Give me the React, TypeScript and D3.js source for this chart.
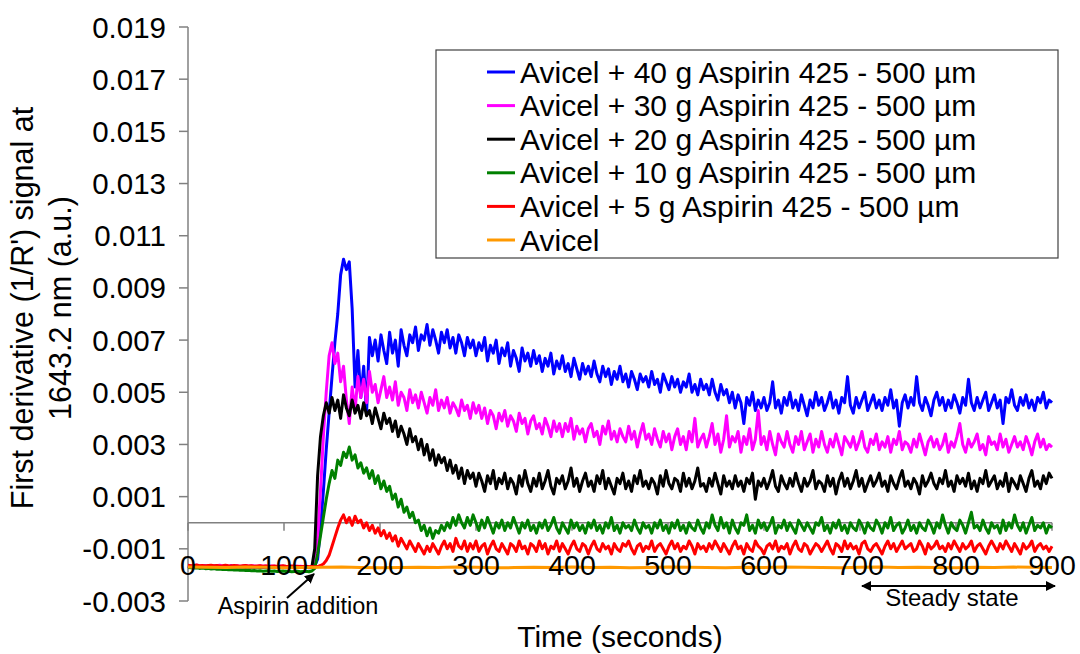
import React from "react";
import * as d3 from "d3";

const FONT = "'Liberation Sans', Arial, Helvetica, sans-serif";

// Axis ticks
const xTicks = [0, 100, 200, 300, 400, 500, 600, 700, 800, 900];
const yTicks = [-0.003, -0.001, 0.001, 0.003, 0.005, 0.007, 0.009, 0.011, 0.013, 0.015, 0.017, 0.019];
const yTickLabels = ["-0.003", "-0.001", "0.001", "0.003", "0.005", "0.007", "0.009", "0.011", "0.013", "0.015", "0.017", "0.019"];

// First-derivative signals in units of 1e-5 a.u.
const SIGNAL_UNIT = 1e-5;
const STEP_S = 3; // mixture runs: one reading every 3 s (each row = 30 s)
const AVICEL_STEP_S = 20; // blank Avicel run: one reading every 20 s

const aspirin40 = [
  -167, -168, -166, -169, -168, -167, -170, -168, -169, -167,
  -168, -170, -169, -168, -171, -169, -170, -168, -171, -170,
  -169, -171, -170, -172, -170, -171, -172, -170, -171, -172,
  -171, -172, -170, -171, -173, -172, -171, -173, -172, -171,
  -172, -171, -173, -172, -165, -140, -20, 120, 280, 420,
  560, 690, 800, 950, 1010, 970, 1000, 820, 520, 660,
  480, 600, 420, 710, 640, 700, 620, 720, 660, 610,
  730, 650, 700, 600, 740, 680, 640, 720, 690, 750,
  660, 720, 700, 760, 680, 740, 700, 650, 730, 690,
  740, 670, 710, 650, 720, 690, 640, 710, 670, 700,
  640, 690, 660, 710, 620, 680, 650, 700, 610, 670,
  640, 690, 600, 660, 630, 580, 670, 620, 650, 600,
  660, 610, 640, 580, 630, 600, 650, 570, 620, 590,
  640, 580, 610, 560, 630, 590, 550, 610, 570, 600,
  560, 620, 570, 540, 600, 560, 590, 530, 580, 550,
  600, 540, 570, 520, 580, 550, 510, 570, 540, 560,
  520, 580, 530, 550, 500, 570, 540, 510, 560, 520,
  550, 500, 540, 520, 570, 500, 530, 490, 550, 510,
  530, 490, 550, 500, 470, 530, 490, 510, 460, 500,
  440, 490, 460, 380, 480, 450, 500, 430, 470, 440,
  480, 430, 460, 540, 440, 470, 420, 480, 450, 500,
  440, 470, 430, 490, 450, 410, 470, 440, 500, 450,
  480, 430, 460, 500, 440, 470, 420, 480, 460, 560,
  450, 420, 480, 440, 470, 500, 430, 460, 490, 440,
  470, 430, 480, 450, 510, 440, 470, 370, 460, 490,
  440, 480, 450, 560, 460, 430, 480, 450, 410, 470,
  500, 450, 480, 430, 470, 440, 490, 460, 420, 480,
  450, 550, 460, 430, 480, 440, 470, 500, 430, 460,
  490, 440, 470, 380, 480, 460, 510, 450, 430, 480,
  450, 490, 440, 470, 430, 480, 460, 500, 440, 470,
  460,
];

const aspirin30 = [
  -164, -166, -165, -163, -166, -164, -165, -167, -164, -166,
  -165, -163, -166, -165, -167, -164, -166, -165, -167, -166,
  -164, -167, -165, -166, -168, -165, -167, -166, -168, -166,
  -167, -168, -166, -167, -169, -167, -168, -166, -168, -167,
  -168, -167, -169, -168, -155, -60, 120, 330, 500, 640,
  690, 610, 650, 540, 600, 470, 380, 520, 430, 560,
  480, 550, 460, 580, 500, 530, 460, 510, 560, 480,
  520, 470, 540, 450, 500, 480, 430, 510, 460, 490,
  440, 500, 460, 420, 480, 450, 510, 430, 470, 440,
  480, 420, 460, 440, 410, 470, 430, 450, 400, 460,
  420, 450, 400, 440, 380, 430, 410, 360, 420, 390,
  430, 370, 410, 390, 350, 420, 380, 400, 340, 390,
  410, 360, 380, 340, 400, 370, 330, 390, 350, 380,
  330, 380, 350, 400, 320, 370, 340, 360, 310, 360,
  380, 330, 350, 300, 370, 340, 390, 320, 350, 310,
  360, 330, 310, 370, 320, 350, 290, 340, 380, 320,
  340, 300, 360, 320, 290, 350, 310, 340, 280, 330,
  360, 300, 330, 280, 350, 310, 400, 290, 320, 340,
  290, 330, 380, 300, 340, 270, 320, 410, 290, 330,
  310, 350, 270, 330, 300, 360, 280, 320, 430, 300,
  330, 280, 350, 300, 260, 340, 310, 290, 350, 300,
  270, 330, 300, 350, 280, 310, 340, 270, 320, 290,
  350, 300, 270, 320, 290, 340, 300, 260, 330, 310,
  290, 330, 280, 310, 350, 290, 270, 320, 300, 340,
  280, 310, 290, 330, 270, 320, 300, 350, 280, 310,
  300, 270, 320, 290, 340, 300, 260, 310, 330, 290,
  320, 280, 300, 340, 270, 310, 290, 330, 380, 300,
  270, 320, 290, 310, 340, 280, 300, 260, 330, 300,
  310, 280, 340, 290, 320, 270, 300, 330, 290, 310,
  280, 330, 300, 260, 310, 340, 290, 320, 280, 300,
  290,
];

const aspirin20 = [
  -167, -169, -168, -166, -168, -169, -167, -168, -170, -168,
  -167, -169, -168, -170, -169, -167, -169, -170, -168, -169,
  -171, -169, -170, -168, -170, -171, -169, -170, -171, -170,
  -169, -171, -170, -172, -170, -171, -169, -171, -172, -170,
  -171, -170, -172, -171, -100, 180, 330, 410, 460, 420,
  480, 430, 470, 400, 490, 440, 410, 470, 420, 450,
  400, 460, 410, 430, 380, 440, 400, 360, 420, 380,
  400, 350, 390, 330, 370, 340, 300, 360, 310, 330,
  280, 320, 260, 300, 240, 280, 220, 260, 230, 250,
  200, 240, 190, 220, 170, 210, 150, 200, 170, 190,
  140, 190, 160, 120, 180, 150, 200, 130, 170, 150,
  190, 130, 170, 150, 110, 180, 140, 200, 150, 120,
  170, 140, 190, 130, 160, 200, 140, 110, 170, 150,
  180, 130, 160, 210, 140, 170, 120, 160, 190, 140,
  160, 120, 180, 150, 200, 130, 170, 140, 110, 170,
  150, 190, 130, 160, 120, 180, 150, 200, 140, 160,
  130, 170, 150, 110, 180, 140, 200, 150, 130, 170,
  160, 120, 190, 140, 170, 130, 160, 210, 140, 150,
  120, 170, 140, 190, 150, 110, 180, 140, 160, 130,
  180, 140, 160, 120, 170, 150, 190, 90, 160, 140,
  170, 130, 160, 200, 140, 120, 180, 150, 130, 170,
  140, 190, 150, 120, 170, 140, 160, 200, 130, 160,
  150, 120, 180, 140, 170, 110, 160, 190, 140, 170,
  130, 160, 200, 140, 170, 120, 150, 180, 140, 160,
  190, 140, 160, 120, 180, 150, 130, 170, 200, 140,
  160, 130, 170, 150, 110, 180, 140, 160, 190, 150,
  130, 170, 150, 200, 140, 160, 120, 180, 150, 170,
  140, 190, 130, 160, 120, 170, 150, 200, 140, 160,
  180, 130, 160, 140, 190, 120, 170, 150, 130, 180,
  150, 120, 170, 200, 140, 160, 130, 180, 150, 190,
  170,
];

const aspirin10 = [
  -172, -173, -174, -173, -175, -174, -176, -175, -177, -176,
  -178, -177, -179, -178, -180, -179, -181, -180, -182, -181,
  -183, -182, -184, -183, -185, -184, -186, -185, -184, -186,
  -185, -187, -186, -185, -187, -186, -188, -187, -186, -188,
  -187, -186, -188, -185, -175, -120, -50, 20, 90, 150,
  200, 170, 240, 220, 270, 250, 290, 240, 260, 210,
  230, 190, 210, 170, 200, 150, 180, 130, 160, 120,
  140, 90, 110, 60, 90, 40, 60, 20, 40, 0,
  10, -30, -10, -50, -20, -60, -30, -40, -10, -30,
  0, -20, 20, -10, 30, 0, -20, 20, -10, 30,
  0, -30, 10, -20, 20, -10, -40, 0, -20, 10,
  -30, 0, -20, 20, -10, -40, 0, -20, 10, -30,
  -10, -40, 0, -20, 10, -30, -10, 20, -20, -40,
  0, -20, -40, 10, -20, 0, -30, -10, -40, 0,
  -20, 10, -30, -10, -40, 0, -20, 20, -30, -10,
  -40, 0, -20, -10, -30, 10, -20, -40, 0, -20,
  -10, -40, 0, -20, 10, -30, -10, -40, 0, -20,
  10, -30, -10, -40, 0, -20, -30, 10, -20, -40,
  0, -20, 30, -10, -30, 20, -20, 0, -40, 10,
  -20, -40, 0, -10, 30, -30, -10, -40, 10, -20,
  0, -30, -10, 20, -40, -10, -20, 10, -30, 0,
  -20, -40, 10, -10, -30, 0, -20, -40, 0, -10,
  20, -30, -10, -40, 0, -20, 10, -30, -10, -40,
  0, -20, -30, 10, -10, -40, 0, -20, -30, 10,
  -10, -40, 0, -20, 20, -30, -10, 0, -40, -20,
  10, -30, -10, -40, 0, -20, -30, 10, -10, -40,
  0, -20, 30, -10, -40, 0, -20, -30, 10, -10,
  -40, 0, 40, -20, -10, -30, 10, -20, -40, 0,
  -20, -10, -40, 10, -30, 0, -20, 30, -10, -30,
  0, -40, -10, 20, -30, -10, -20, 0, -40, -10,
  -20,
];

const aspirin5 = [
  -163, -165, -164, -162, -165, -164, -166, -164, -163, -165,
  -164, -166, -165, -163, -165, -166, -164, -165, -167, -165,
  -164, -166, -165, -167, -166, -165, -167, -166, -168, -167,
  -166, -168, -167, -165, -167, -168, -166, -168, -167, -169,
  -168, -167, -169, -168, -170, -168, -164, -158, -145, -125,
  -90, -55, -20, 10, 30, 0, 20, -10, 25, 0,
  10, -20, 0, -30, -10, -40, -20, -50, -30, -60,
  -40, -70, -50, -90, -60, -80, -100, -70, -90, -110,
  -80, -100, -120, -90, -110, -80, -100, -120, -90, -70,
  -100, -80, -110, -60, -90, -100, -70, -110, -80, -100,
  -70, -110, -90, -80, -120, -90, -70, -100, -110, -80,
  -100, -120, -80, -90, -110, -70, -100, -90, -120, -80,
  -90, -110, -70, -100, -80, -120, -90, -100, -70, -110,
  -80, -100, -120, -90, -70, -100, -110, -80, -90, -120,
  -90, -70, -100, -110, -80, -100, -90, -120, -80, -100,
  -110, -80, -90, -70, -100, -120, -90, -80, -110, -90,
  -100, -70, -110, -90, -80, -100, -120, -90, -70, -100,
  -80, -110, -90, -100, -70, -90, -120, -80, -100, -90,
  -110, -80, -100, -70, -90, -110, -80, -100, -120, -90,
  -70, -100, -90, -120, -80, -100, -110, -70, -90, -100,
  -120, -90, -80, -100, -70, -110, -90, -100, -80, -120,
  -90, -70, -100, -110, -80, -90, -120, -100, -80, -90,
  -110, -90, -70, -100, -120, -80, -90, -110, -70, -100,
  -80, -100, -90, -120, -80, -70, -100, -110, -90, -80,
  -100, -120, -90, -70, -100, -80, -110, -90, -70, -100,
  -90, -80, -110, -100, -70, -90, -120, -80, -100, -90,
  -70, -100, -90, -110, -80, -100, -70, -90, -110, -80,
  -100, -90, -70, -110, -90, -80, -100, -120, -90, -70,
  -90, -110, -80, -100, -70, -90, -110, -80, -100, -120,
  -80, -100, -90, -70, -110, -90, -80, -100, -90, -110,
  -90,
];

const avicelOnly = [
  -170, -171, -172, -170, -171, -173, -172, -171, -170, -172, -173, -172, -171, -172, -170, -171, -173, -172, -171, -172,
  -170, -172, -171, -173, -172, -170, -171, -172, -173, -171, -172, -170, -171, -172, -173, -171, -170, -172, -171, -172,
  -173, -171, -172, -170, -171, -172,
];

const seriesNames = [
  "Avicel + 40 g Aspirin 425 - 500 µm",
  "Avicel + 30 g Aspirin 425 - 500 µm",
  "Avicel + 20 g Aspirin 425 - 500 µm",
  "Avicel + 10 g Aspirin 425 - 500 µm",
  "Avicel + 5 g Aspirin 425 - 500 µm",
  "Avicel",
];
const seriesColors = ["#0000FF", "#FF00FF", "#000000", "#008000", "#FF0000", "#FF9900"];
const seriesValues = [aspirin40, aspirin30, aspirin20, aspirin10, aspirin5, avicelOnly];
const seriesSteps = [STEP_S, STEP_S, STEP_S, STEP_S, STEP_S, AVICEL_STEP_S];

const AXIS_COLOR = "#808080";

export default function App() {
  const x = d3.scaleLinear().domain([0, 900]).range([188, 1052]);
  const y = d3.scaleLinear().domain([-0.003, 0.019]).range([601, 27]);
  const line = d3
    .line<[number, number]>()
    .x((d) => x(d[0]))
    .y((d) => y(d[1]));

  const series = seriesValues.map((vals, k) => ({
    name: seriesNames[k],
    color: seriesColors[k],
    points: vals.map((v, i) => [Math.min(i * seriesSteps[k], 900), v * SIGNAL_UNIT] as [number, number]),
  }));

  const y0 = y(0);
  const legendX = 436;
  const legendY = 50;
  const legendRow = 33.6;

  return (
    <svg
      width={1080}
      height={654}
      style={{ position: "absolute", left: 0, top: 0, background: "#fff" }}
      fontFamily={FONT}
    >
      <defs>
        <marker id="arrowEnd" viewBox="0 0 10 10" refX="9" refY="5" markerWidth="10" markerHeight="10" markerUnits="userSpaceOnUse" orient="auto">
          <path d="M0,0 L10,5 L0,10 z" fill="#000" />
        </marker>
        <marker id="arrowStart" viewBox="0 0 10 10" refX="1" refY="5" markerWidth="10" markerHeight="10" markerUnits="userSpaceOnUse" orient="auto">
          <path d="M10,0 L0,5 L10,10 z" fill="#000" />
        </marker>
      </defs>

      {/* y axis */}
      <line x1={x(0)} x2={x(0)} y1={y(0.019)} y2={y(-0.003)} stroke={AXIS_COLOR} strokeWidth={1.5} />
      {yTicks.map((t, i) => (
        <g key={"yt" + i}>
          <line x1={x(0) - 9} x2={x(0)} y1={y(t)} y2={y(t)} stroke={AXIS_COLOR} strokeWidth={1.5} />
          <text x={166} y={y(t) + 10.5} textAnchor="end" fontSize={29.5} fill="#000">
            {yTickLabels[i]}
          </text>
        </g>
      ))}

      {/* x axis drawn at zero */}
      <line x1={x(0)} x2={x(900)} y1={y0} y2={y0} stroke={AXIS_COLOR} strokeWidth={1.5} />
      {xTicks.map((t) => (
        <line key={"xt" + t} x1={x(t)} x2={x(t)} y1={y0} y2={y0 + 8} stroke={AXIS_COLOR} strokeWidth={1.5} />
      ))}

      {/* data */}
      {series.map((s) => (
        <path
          key={s.name}
          d={line(s.points) || ""}
          fill="none"
          stroke={s.color}
          strokeWidth={3}
          strokeLinejoin="round"
        />
      ))}

      {/* x tick labels sit at the bottom of the plot */}
      {xTicks.map((t) => (
        <text key={"xl" + t} x={x(t)} y={575} textAnchor="middle" fontSize={28.5} fill="#000">
          {t}
        </text>
      ))}

      {/* axis titles */}
      <text x={620} y={647} textAnchor="middle" fontSize={30} fill="#000">
        Time (seconds)
      </text>
      <g transform="translate(33,308) rotate(-90)">
        <text x={0} y={0} textAnchor="middle" fontSize={30.5} fill="#000">
          First derivative (1/R') signal at
        </text>
        <text x={0} y={38} textAnchor="middle" fontSize={30.5} fill="#000">
          1643.2 nm (a.u.)
        </text>
      </g>

      {/* legend */}
      <rect x={legendX} y={legendY} width={622} height={208} fill="#fff" stroke="#404040" strokeWidth={1.2} />
      {series.map((s, i) => {
        const cy = legendY + 22 + i * legendRow;
        return (
          <g key={"lg" + i}>
            <line x1={487} x2={515} y1={cy} y2={cy} stroke={s.color} strokeWidth={3} />
            <text x={520} y={cy + 10.5} fontSize={30} fill="#000">
              {s.name}
            </text>
          </g>
        );
      })}

      {/* annotations */}
      <line x1={287} x2={314} y1={598} y2={574} stroke="#000" strokeWidth={2} markerEnd="url(#arrowEnd)" />
      <text x={298} y={614} textAnchor="middle" fontSize={23.5} fill="#000">
        Aspirin addition
      </text>
      <line x1={x(700) + 2} x2={x(900) + 3} y1={586} y2={586} stroke="#000" strokeWidth={2} markerStart="url(#arrowStart)" markerEnd="url(#arrowEnd)" />
      <text x={952} y={606} textAnchor="middle" fontSize={24} fill="#000">
        Steady state
      </text>
    </svg>
  );
}
